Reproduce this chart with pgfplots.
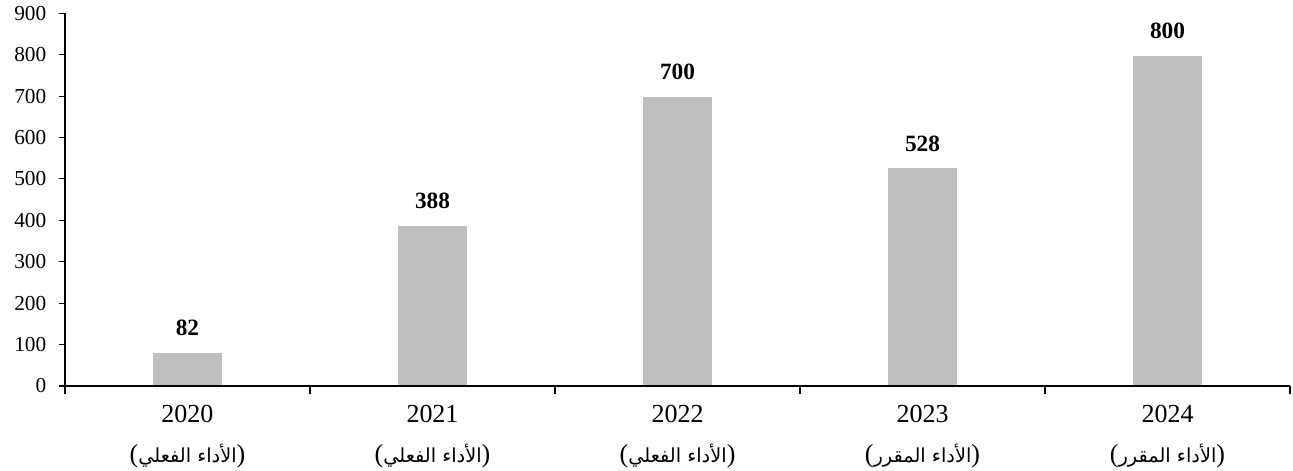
\documentclass[border=0pt]{standalone}
\usepackage{pgfplots}
\pgfplotsset{compat=1.18}
\usepackage{fontspec}
\setmainfont{Liberation Serif}
\newfontfamily\arabicfont[Script=Arabic]{DejaVu Sans}
\TeXXeTstate=1
\definecolor{bargray}{HTML}{BFBFBF}
\newcommand{\arsize}{\fontsize{14.5}{16}\selectfont}
\begin{document}
\begin{tikzpicture}
\begin{axis}[
  at={(0,0)}, anchor=south west,
  scale only axis, width=918.75pt, height=279.5pt,
  xmin=-0.5, xmax=4.5, ymin=0, ymax=900,
  axis lines=left, axis line style={-, line width=0.8pt},
  axis on top,
  ybar, bar width=53.5pt,
  ytick={0,100,...,900},
  xtick={0,1,2,3,4},
  xticklabels={
    {2020\\[7pt]({\arabicfont\arsize\beginR الأداء الفعلي\endR})},
    {2021\\[7pt]({\arabicfont\arsize\beginR الأداء الفعلي\endR})},
    {2022\\[7pt]({\arabicfont\arsize\beginR الأداء الفعلي\endR})},
    {2023\\[7pt]({\arabicfont\arsize\beginR الأداء المقرر\endR})},
    {2024\\[7pt]({\arabicfont\arsize\beginR الأداء المقرر\endR})}},
  minor xtick={-0.5,0.5,1.5,2.5,3.5,4.5},
  tick align=outside,
  major tick length=4.5pt, minor tick length=6pt,
  major x tick style={draw=none},
  tick style={black, line width=0.8pt},
  yticklabel style={font=\fontsize{16}{19}\selectfont, xshift=-6pt},
  xticklabel style={font=\fontsize{19.5}{23}\selectfont, align=center, anchor=north, yshift=-6pt},
  /pgf/number format/assume math mode=true,
  nodes near coords,
  nodes near coords style={font=\bfseries\fontsize{17.5}{20}\selectfont, anchor=center, yshift=18pt, black},
]
\addplot[fill=bargray, draw=white, line width=1.2pt] coordinates {(0,82) (1,388) (2,700) (3,528) (4,800)};
\end{axis}
\pgfresetboundingbox
\path[use as bounding box] (-48.75pt,-63.75pt) rectangle (921pt,289.5pt);
\end{tikzpicture}
\end{document}
